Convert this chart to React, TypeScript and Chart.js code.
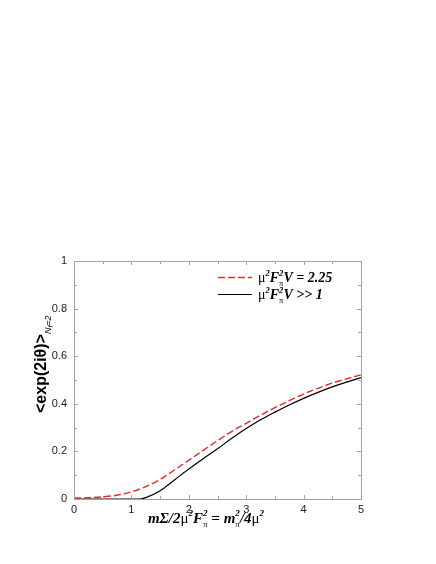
import React, { useEffect, useRef } from "react";
import { Chart, registerables } from "chart.js";
Chart.register(...registerables);

// ---- data ----
const redX = [0, 0.25, 0.5, 0.75, 1, 1.25, 1.5, 1.75, 2, 2.25, 2.5, 2.75, 3, 3.25, 3.5, 3.75, 4, 4.25, 4.5, 4.75, 5];
const redY = [0.004, 0.005, 0.009, 0.016, 0.03, 0.052, 0.082, 0.122, 0.163, 0.204, 0.245, 0.284, 0.318, 0.352, 0.384, 0.413, 0.441, 0.465, 0.487, 0.505, 0.522];
const blackX = [0, 0.5, 1, 1.15, 1.25, 1.5, 1.75, 2, 2.25, 2.5, 2.75, 3, 3.25, 3.5, 3.75, 4, 4.25, 4.5, 4.75, 5];
const blackY = [0, 0, 0, 0, 0.006, 0.035, 0.08, 0.126, 0.169, 0.211, 0.255, 0.296, 0.333, 0.365, 0.395, 0.423, 0.448, 0.471, 0.491, 0.51];
const xTicks = [0, 1, 2, 3, 4, 5];
const yTicks = [0, 0.2, 0.4, 0.6, 0.8, 1];
const legendEnds = ["V = 2.25", "V >> 1"];

const RED = "rgb(235,40,40)";
const FRAME = "#a3a3a3";
const SERIF = "'Liberation Serif', 'DejaVu Serif', serif";
const SANS = "'Liberation Sans', Arial, sans-serif";

type Seg = { t: string; f: string; dy?: number; stack?: boolean };

function segsWidth(ctx: CanvasRenderingContext2D, segs: Seg[]) {
  let w = 0;
  let pending = 0;
  for (const s of segs) {
    ctx.font = s.f;
    const sw = ctx.measureText(s.t).width;
    if (s.stack) {
      pending = Math.max(pending, sw);
    } else {
      w += Math.max(pending, sw);
      pending = 0;
    }
  }
  return w + pending;
}

function drawSegs(ctx: CanvasRenderingContext2D, segs: Seg[], x: number, y: number) {
  let cx = x;
  let pending = 0;
  ctx.textAlign = "left";
  ctx.textBaseline = "alphabetic";
  for (const s of segs) {
    ctx.font = s.f;
    const sw = ctx.measureText(s.t).width;
    ctx.fillText(s.t, cx, y + (s.dy || 0));
    if (s.stack) {
      pending = Math.max(pending, sw);
    } else {
      cx += Math.max(pending, sw);
      pending = 0;
    }
  }
}

const BI = `bold italic 15px ${SERIF}`;
const MU = `15px ${SERIF}`;
const SUP = `bold italic 9px ${SERIF}`;
const SUB = `9px ${SERIF}`;

const LBI = `bold italic 14px ${SERIF}`;
const LMU = `14px ${SERIF}`;
const LSUP = `bold italic 8.5px ${SERIF}`;
const LSUB = `8.5px ${SERIF}`;

const xTitle: Seg[] = [
  { t: "mΣ/2", f: BI },
  { t: "μ", f: MU },
  { t: "2", f: SUP, dy: -7 },
  { t: "F", f: BI },
  { t: "π", f: SUB, dy: 4, stack: true },
  { t: "2", f: SUP, dy: -7 },
  { t: " = m", f: BI },
  { t: "π", f: SUB, dy: 4, stack: true },
  { t: "2", f: SUP, dy: -7 },
  { t: "/4", f: BI },
  { t: "μ", f: MU },
  { t: "2", f: SUP, dy: -7 },
];

function legendSegs(end: string): Seg[] {
  return [
    { t: "μ", f: LMU },
    { t: "2", f: LSUP, dy: -6 },
    { t: "F", f: LBI },
    { t: "π", f: LSUB, dy: 4, stack: true },
    { t: "2", f: LSUP, dy: -6 },
    { t: end, f: LBI },
  ];
}

const yTitle: Seg[] = [
  { t: "<exp(2iθ)>", f: `bold 16px ${SANS}` },
  { t: "N", f: `italic 9px ${SANS}`, dy: 5 },
  { t: "f", f: `italic 7px ${SANS}`, dy: 7 },
  { t: "=2", f: `italic 9px ${SANS}`, dy: 5 },
];

const decorPlugin = {
  id: "decor",
  afterDraw(chart: any) {
    const ctx: CanvasRenderingContext2D = chart.ctx;
    const { left, right, top, bottom } = chart.chartArea;
    const xs = chart.scales.x;
    const ys = chart.scales.y;
    ctx.save();
    // frame
    ctx.strokeStyle = FRAME;
    ctx.lineWidth = 1;
    ctx.strokeRect(Math.round(left) + 0.5, Math.round(top) + 0.5, Math.round(right - left), Math.round(bottom - top));
    // inward ticks
    ctx.beginPath();
    for (let i = 0; i <= 10; i++) {
      const v = i * 0.5;
      const px = Math.round(xs.getPixelForValue(v)) + 0.5;
      const len = i % 2 === 0 ? 4 : 3;
      ctx.moveTo(px, bottom);
      ctx.lineTo(px, bottom - len);
      ctx.moveTo(px, top);
      ctx.lineTo(px, top + len);
    }
    for (let i = 0; i <= 10; i++) {
      const v = i * 0.1;
      const py = Math.round(ys.getPixelForValue(v)) + 0.5;
      const len = i % 2 === 0 ? 4 : 3;
      ctx.moveTo(left, py);
      ctx.lineTo(left + len, py);
      ctx.moveTo(right, py);
      ctx.lineTo(right - len, py);
    }
    ctx.stroke();

    // legend
    ctx.lineWidth = 1.4;
    ctx.strokeStyle = RED;
    ctx.setLineDash([7, 3]);
    ctx.beginPath();
    ctx.moveTo(218, 277.5);
    ctx.lineTo(252, 277.5);
    ctx.stroke();
    ctx.setLineDash([]);
    ctx.strokeStyle = "#000";
    ctx.lineWidth = 1.2;
    ctx.beginPath();
    ctx.moveTo(218, 294.5);
    ctx.lineTo(252, 294.5);
    ctx.stroke();
    ctx.fillStyle = "#000";
    drawSegs(ctx, legendSegs(legendEnds[0]), 258, 282);
    drawSegs(ctx, legendSegs(legendEnds[1]), 258, 299);

    // x title
    const xw = segsWidth(ctx, xTitle);
    drawSegs(ctx, xTitle, 206 - xw / 2, 523);

    // y title
    ctx.save();
    ctx.translate(46, 413);
    ctx.rotate(-Math.PI / 2);
    drawSegs(ctx, yTitle, 0, 0);
    ctx.restore();

    ctx.restore();
  },
};

export default function App() {
  const ref = useRef<HTMLCanvasElement | null>(null);
  useEffect(() => {
    if (!ref.current) return;
    const chart = new Chart(ref.current, {
      type: "line",
      data: {
        datasets: [
          {
            label: "red",
            data: redX.map((x, i) => ({ x, y: redY[i] })),
            borderColor: RED,
            borderWidth: 1.4,
            borderDash: [7, 3],
            pointRadius: 0,
            cubicInterpolationMode: "monotone",
            fill: false,
          },
          {
            label: "black",
            data: blackX.map((x, i) => ({ x, y: blackY[i] })),
            borderColor: "#000",
            borderWidth: 1.2,
            pointRadius: 0,
            cubicInterpolationMode: "monotone",
            fill: false,
          },
        ],
      },
      options: {
        responsive: false,
        animation: false,
        layout: { padding: { top: 261, right: 75, left: 0, bottom: 0 } },
        plugins: { legend: { display: false }, tooltip: { enabled: false } },
        scales: {
          x: {
            type: "linear",
            min: 0,
            max: 5,
            afterBuildTicks: (s: any) => {
              s.ticks = xTicks.map((v) => ({ value: v }));
            },
            afterFit: (s: any) => {
              s.height = 65;
            },
            grid: { display: false, drawTicks: false },
            border: { display: false },
            ticks: {
              padding: 4,
              color: "#222",
              font: { family: SANS, size: 11 },
              callback: (v: any) => String(v),
            },
          },
          y: {
            type: "linear",
            min: 0,
            max: 1,
            afterBuildTicks: (s: any) => {
              s.ticks = yTicks.map((v) => ({ value: v }));
            },
            afterFit: (s: any) => {
              s.width = 74;
            },
            grid: { display: false, drawTicks: false },
            border: { display: false },
            ticks: {
              padding: 7,
              color: "#222",
              font: { family: SANS, size: 11 },
              callback: (v: any) => String(Number(Number(v).toFixed(1))),
            },
          },
        },
      },
      plugins: [decorPlugin],
    } as any);
    return () => chart.destroy();
  }, []);
  return (
    <div style={{ position: "absolute", left: 0, top: 0, width: 436, height: 564, background: "#fff" }}>
      <canvas ref={ref} width={436} height={564} style={{ display: "block", width: 436, height: 564 }} />
    </div>
  );
}
